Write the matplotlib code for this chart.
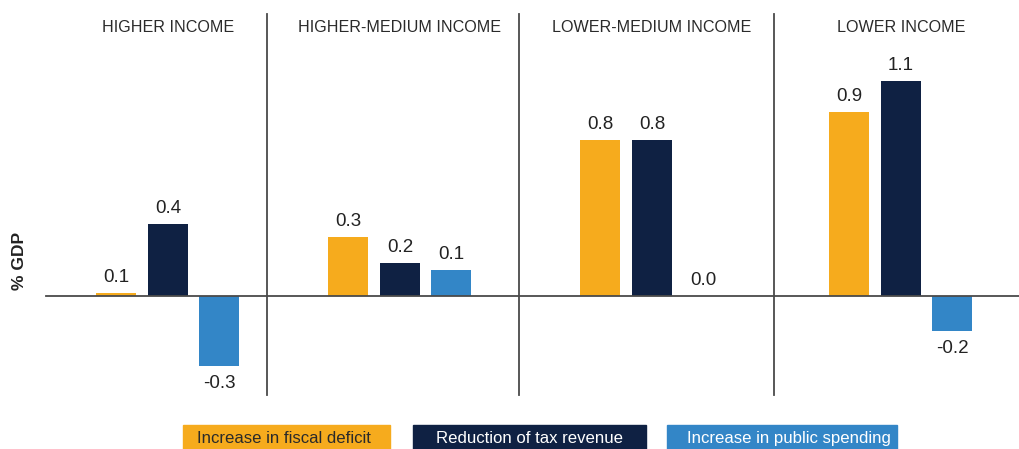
import matplotlib.pyplot as plt
from matplotlib.patches import Rectangle

# data
groups = ["HIGHER INCOME", "HIGHER-MEDIUM INCOME", "LOWER-MEDIUM INCOME", "LOWER INCOME"]
series = ["Increase in fiscal deficit", "Reduction of tax revenue", "Increase in public spending"]
fiscal_deficit = [0.017, 0.303, 0.80, 0.943]
tax_revenue = [0.37, 0.17, 0.80, 1.10]
public_spending = [-0.355, 0.135, 0.0, -0.176]
deficit_labels = ["0.1", "0.3", "0.8", "0.9"]
tax_labels = ["0.4", "0.2", "0.8", "1.1"]
spending_labels = ["-0.3", "0.1", "0.0", "-0.2"]

colors = ["#F6AB1D", "#0F2143", "#3386C7"]
line_col = "#4a4a4a"
text_col = "#222222"
fam = ["Liberation Sans", "DejaVu Sans"]

W, H = 1019, 449
fig = plt.figure(figsize=(W / 100, H / 100), dpi=100)
ax = fig.add_axes([0, 0, 1, 1])

# vertical scale: zero line at 296 px from the top, ~195.5 px per unit
zero_px = H - 296.3
scale = 195.5
ax.set_ylim(-zero_px / scale, (H - zero_px) / scale)
ax.set_xlim(0, W)
ax.axis("off")

def py(pix_from_top):
    return (H - pix_from_top - zero_px) / scale

centers = [168, 400, 652, 901]
offsets = [-51.5, 0, 51.5]
width = 40

all_vals = [fiscal_deficit, tax_revenue, public_spending]
all_labels = [deficit_labels, tax_labels, spending_labels]

for s in range(3):
    xs = [c + offsets[s] for c in centers]
    ax.bar(xs, all_vals[s], width=width, color=colors[s], zorder=2)
    for x, v, lab in zip(xs, all_vals[s], all_labels[s]):
        if v >= 0:
            ax.text(x, v + 7 / scale, lab, ha="center", va="bottom",
                    fontsize=13.5, color=text_col, family=fam)
        else:
            ax.text(x, v - 9 / scale, lab, ha="center", va="top",
                    fontsize=13.5, color=text_col, family=fam)

# zero line and panel dividers
ax.plot([46, W], [0, 0], color=line_col, lw=1.3, zorder=3)
for xd in [267, 519, 774]:
    ax.plot([xd, xd], [py(14), py(395)], color=line_col, lw=1.3, zorder=3)

for c, g in zip(centers, groups):
    ax.text(c, py(27.5), g, ha="center", va="center", fontsize=11.6,
            color="#2a2a2a", family=fam)

fig.text(20 / W, 1 - 261 / H, "% GDP", rotation=90, ha="center", va="center",
         fontsize=12.5, fontweight="bold", color=text_col, family=fam)

# legend boxes along the bottom edge
box_x = [(183, 390), (413, 646), (667, 897)]
text_x = [197, 436, 687]
text_cols = ["#2a2a2a", "white", "white"]
for (x0, x1), tx, col, name, tc in zip(box_x, text_x, colors, series, text_cols):
    fig.patches.append(Rectangle((x0 / W, 0), (x1 - x0) / W, (H - 425) / H,
                                 transform=fig.transFigure, color=col))
    fig.text(tx / W, 1 - 438.5 / H, name, ha="left", va="center", fontsize=12.1,
             color=tc, family=fam)

fig.savefig("out.png", dpi=100)
